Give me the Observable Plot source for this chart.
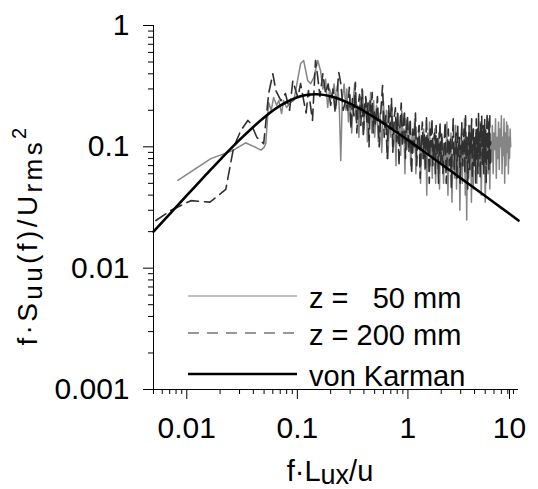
<!DOCTYPE html>
<html><head><meta charset="utf-8">
<script src="https://cdn.jsdelivr.net/npm/d3@7"></script>
<script src="https://cdn.jsdelivr.net/npm/@observablehq/plot@0.6"></script>
<style>
body{margin:0;background:#fff}
svg{font-family:"Liberation Sans",Arial,sans-serif}
</style>
</head><body><div id="chart"></div>
<script>
const xDomain = [0.005, 10];
const yDomain = [0.001, 1];
const xMajor = [0.01, 0.1, 1, 10];
const yMajor = [0.001, 0.01, 0.1, 1];
const xMinor = [0.005,0.006,0.007,0.008,0.009,0.02,0.03,0.04,0.05,0.06,0.07,0.08,0.09,0.2,0.3,0.4,0.5,0.6,0.7,0.8,0.9,2,3,4,5,6,7,8,9];
const yMinor = [0.002,0.003,0.004,0.005,0.006,0.007,0.008,0.009,0.02,0.03,0.04,0.05,0.06,0.07,0.08,0.09,0.2,0.3,0.4,0.5,0.6,0.7,0.8,0.9];
const seriesNames = ["z =   50 mm", "z = 200 mm", "von Karman"];
const xTitle = ["f·L", "ux", "/u"];
const yTitle = ["f·S", "uu", "(f)/U", "rms", "2"];

// z = 50 mm (grey, solid)
const z50 = [
[0.0083,0.053],[0.0165,0.080],[0.026,0.093],[0.034,0.108],[0.042,0.099],[0.047,0.094],[0.05,0.099],[0.0518,0.106],
[0.055,0.232],[0.058,0.20],[0.061,0.255],[0.065,0.22],[0.068,0.241],[0.072,0.188],[0.075,0.241],[0.08,0.211],
[0.086,0.23],[0.093,0.241],[0.107,0.486],[0.114,0.515],[0.124,0.352],[0.132,0.332],[0.141,0.373],[0.153,0.515],
[0.162,0.426],[0.170,0.30],[0.18,0.36],[0.188,0.211],[0.196,0.30],[0.205,0.25],[0.215,0.33],[0.225,0.22],
[0.232,0.332],[0.24,0.2],[0.247,0.077],[0.255,0.25],[0.265,0.33],[0.275,0.2],
[0.28,0.30],[0.29,0.16],[0.30,0.27],[0.31,0.13],[0.32,0.24],[0.33,0.33],[0.34,0.17],[0.35,0.22],[0.36,0.12],[0.37,0.26],
[0.38,0.19],[0.39,0.29],[0.40,0.14],[0.41,0.21],[0.42,0.25],[0.43,0.11],[0.44,0.23],[0.45,0.17],[0.46,0.28],[0.47,0.13],
[0.48,0.20],[0.49,0.24],[0.50,0.12],
[0.52,0.22],[0.54,0.11],[0.56,0.19],[0.58,0.09],[0.60,0.24],[0.62,0.14],[0.64,0.20],[0.66,0.08],[0.68,0.17],[0.70,0.12],
[0.72,0.21],[0.74,0.10],[0.76,0.16],[0.78,0.07],[0.80,0.19],[0.82,0.13],[0.84,0.15],[0.86,0.085],[0.88,0.20],[0.90,0.11],
[0.92,0.14],[0.94,0.06],[0.96,0.17],[0.98,0.095],[1.00,0.13],
[1.03,0.16],[1.06,0.07],[1.09,0.13],[1.12,0.09],[1.15,0.17],[1.18,0.06],[1.21,0.12],[1.24,0.1],[1.27,0.15],[1.30,0.05],
[1.33,0.11],[1.36,0.08],[1.39,0.14],[1.42,0.065],[1.45,0.12],[1.48,0.04],[1.51,0.13],[1.54,0.09],[1.57,0.16],[1.60,0.07],
[1.63,0.1],[1.66,0.055],[1.69,0.12],[1.72,0.085],[1.75,0.14],[1.78,0.05],[1.81,0.09],[1.84,0.11],[1.87,0.06],[1.90,0.13],
[1.93,0.045],[1.96,0.1],[1.99,0.075],
[2.05,0.12],[2.1,0.05],[2.15,0.1],[2.2,0.065],[2.25,0.16],[2.3,0.04],[2.35,0.09],[2.4,0.075],[2.45,0.13],[2.5,0.035],
[2.55,0.08],[2.6,0.11],[2.65,0.055],[2.7,0.15],[2.75,0.045],[2.8,0.1],[2.85,0.06],[2.9,0.12],[2.95,0.03],[3,0.085],
[3.05,0.13],[3.1,0.05],[3.15,0.095],[3.2,0.07],[3.25,0.17],[3.3,0.04],[3.35,0.11],[3.4,0.025],[3.45,0.09],[3.5,0.12],
[3.55,0.055],[3.6,0.1],[3.65,0.065],[3.7,0.15],[3.75,0.035],[3.8,0.08],[3.85,0.12],[3.9,0.045],[3.95,0.1],[4,0.07],
[4.1,0.13],[4.2,0.05],[4.3,0.11],[4.4,0.07],[4.5,0.16],[4.6,0.04],[4.7,0.1],[4.8,0.085],[4.9,0.14],[5,0.035],
[5.1,0.09],[5.2,0.12],[5.3,0.06],[5.4,0.17],[5.5,0.045],[5.6,0.11],[5.7,0.075],[5.8,0.15],[5.9,0.06],[6,0.13],
[6.1,0.095],[6.2,0.17],[6.3,0.055],[6.4,0.12],[6.5,0.08],[6.6,0.16],[6.7,0.065],[6.8,0.14],[6.9,0.1],[7,0.18],
[7.1,0.06],[7.2,0.12],[7.3,0.085],[7.4,0.17],[7.5,0.05],[7.6,0.13],[7.7,0.07],[7.8,0.16],[7.9,0.09],[8,0.15],
[8.1,0.06],[8.2,0.12],[8.3,0.08],[8.4,0.14],[8.5,0.1]
];

// z = 200 mm (dark, dashed)
const z200 = [
[0.00525,0.0247],[0.0072,0.030],[0.0109,0.036],[0.0162,0.035],[0.0225,0.0445],[0.0266,0.1],[0.0308,0.136],[0.0356,0.165],
[0.0379,0.156],[0.043,0.12],[0.0496,0.106],[0.055,0.275],[0.060,0.40],[0.064,0.29],[0.071,0.24],[0.078,0.275],[0.085,0.2],
[0.091,0.35],[0.101,0.255],[0.107,0.332],[0.114,0.241],[0.12,0.19],[0.126,0.291],[0.137,0.165],[0.146,0.515],[0.153,0.373],
[0.16,0.26],[0.17,0.40],[0.18,0.275],[0.19,0.33],[0.2,0.22],[0.21,0.3],[0.22,0.19],[0.237,0.41],[0.247,0.332],[0.26,0.2],[0.273,0.241],
[0.285,0.2],[0.295,0.31],[0.305,0.14],[0.315,0.25],[0.325,0.18],[0.335,0.34],[0.345,0.13],[0.355,0.22],[0.365,0.27],[0.375,0.15],
[0.385,0.3],[0.395,0.12],[0.405,0.21],[0.415,0.26],[0.425,0.16],[0.435,0.23],[0.445,0.1],[0.455,0.24],[0.465,0.19],[0.475,0.28],
[0.485,0.13],[0.495,0.2],
[0.51,0.15],[0.53,0.26],[0.55,0.1],[0.57,0.2],[0.59,0.32],[0.61,0.12],[0.63,0.18],[0.65,0.08],[0.67,0.22],[0.69,0.14],
[0.71,0.25],[0.73,0.09],[0.75,0.17],[0.77,0.21],[0.79,0.11],[0.81,0.19],[0.83,0.07],[0.85,0.16],[0.87,0.23],[0.89,0.1],
[0.91,0.15],[0.93,0.2],[0.95,0.08],[0.97,0.13],[0.99,0.18],
[1.02,0.09],[1.05,0.17],[1.08,0.06],[1.11,0.14],[1.14,0.1],[1.17,0.19],[1.2,0.07],[1.23,0.12],[1.26,0.15],[1.29,0.055],
[1.32,0.11],[1.35,0.16],[1.38,0.08],[1.41,0.13],[1.44,0.065],[1.47,0.18],[1.5,0.09],[1.53,0.12],[1.56,0.05],[1.59,0.14],
[1.62,0.1],[1.65,0.17],[1.68,0.07],[1.71,0.11],[1.74,0.13],[1.77,0.06],[1.8,0.15],[1.83,0.085],[1.86,0.12],[1.89,0.05],
[1.92,0.1],[1.95,0.16],[1.98,0.075],
[2.02,0.13],[2.07,0.06],[2.12,0.1],[2.17,0.16],[2.22,0.05],[2.27,0.09],[2.32,0.14],[2.37,0.07],[2.42,0.12],[2.47,0.045],
[2.52,0.11],[2.57,0.17],[2.62,0.065],[2.67,0.1],[2.72,0.13],[2.77,0.055],[2.82,0.15],[2.87,0.08],[2.92,0.12],[2.97,0.05],
[3.02,0.09],[3.07,0.16],[3.12,0.07],[3.17,0.11],[3.22,0.14],[3.27,0.06],[3.32,0.18],[3.37,0.08],[3.42,0.12],[3.47,0.045],
[3.52,0.1],[3.57,0.15],[3.62,0.065],[3.67,0.13],[3.72,0.09],[3.77,0.17],[3.82,0.055],[3.87,0.11],[3.92,0.14],[3.97,0.07],
[4.05,0.12],[4.1,0.05],[4.15,0.17],[4.2,0.08],[4.25,0.14],[4.3,0.06],[4.35,0.19],[4.4,0.09],[4.45,0.13],[4.5,0.055],
[4.55,0.16],[4.6,0.1],[4.65,0.18],[4.7,0.07],[4.75,0.12],[4.8,0.15],[4.85,0.06],[4.9,0.11],[4.95,0.17],[5,0.075],
[5.05,0.14],[5.1,0.05],[5.15,0.12],[5.2,0.19],[5.25,0.08],[5.3,0.1],[5.35,0.16],[5.4,0.065],[5.45,0.13],[5.5,0.18],
[5.55,0.07],[5.6,0.11]
];

// von Karman spectrum
const vonKarman = [
[0.005,0.0200],[0.007,0.0279],[0.01,0.0398],[0.015,0.0592],[0.02,0.0782],[0.03,0.114],[0.05,0.1746],[0.07,0.2185],
[0.1,0.2561],[0.12,0.2672],[0.15,0.2712],[0.2,0.2612],[0.3,0.2271],[0.4,0.1973],[0.5,0.1742],[0.7,0.1423],[1,0.1136],
[1.5,0.0872],[2,0.0722],[3,0.0552],[5,0.0393],[7,0.0314],[10,0.0247]
];

const FS = 30;
const fx = d => d[0], fy = d => d[1];

const svgEl = Plot.plot({
  width: 538, height: 489,
  marginLeft: 153, marginRight: 20, marginTop: 25, marginBottom: 100,
  style: {fontFamily: "'Liberation Sans', Arial, sans-serif", fontSize: FS + "px", color: "#000", background: "#fff", overflow: "visible"},
  x: {type: "log", domain: xDomain},
  y: {type: "log", domain: yDomain},
  marks: [
    Plot.line(z50, {x: fx, y: fy, stroke: "#858585", strokeWidth: 1.5}),
    Plot.line(z200, {x: fx, y: fy, stroke: "#303030", strokeWidth: 1.6, strokeDasharray: "12,6"}),
    Plot.line(vonKarman, {x: fx, y: fy, stroke: "#000", strokeWidth: 2.6, curve: "catmull-rom"}),
    Plot.axisX(xMinor, {tickSize: 5, tickFormat: () => "", label: null}),
    Plot.axisX(xMajor.slice(0, 3), {tickSize: 10, tickPadding: 17, tickFormat: d => String(d), label: null, fontSize: FS}),
    Plot.axisX(xMajor.slice(3), {tickSize: 10, tickPadding: 17, dx: -9, tickFormat: d => String(d), label: null, fontSize: FS}),
    Plot.axisY(yMinor, {tickSize: 5, tickFormat: () => "", label: null}),
    Plot.axisY(yMajor, {tickSize: 10, tickPadding: 14, tickFormat: d => String(d), label: null, fontSize: FS}),
    Plot.ruleX([xDomain[0]], {stroke: "#000"}),
    Plot.ruleY([yDomain[0]], {stroke: "#000"})
  ]
});
document.getElementById("chart").appendChild(svgEl);

const svg = d3.select(svgEl);
const fam = "'Liberation Sans', Arial, sans-serif";

// x title
const xt = svg.append("text").attr("x", 330).attr("y", 481).attr("text-anchor", "middle")
  .attr("font-family", fam).attr("font-size", 29).attr("fill", "#000");
xt.append("tspan").text(xTitle[0]);
xt.append("tspan").attr("dy", 3).attr("font-size", 27).text(xTitle[1]);
xt.append("tspan").attr("dy", -3).text(xTitle[2]);

// y title
const yt = svg.append("text").attr("transform", "translate(37,235) rotate(-90)").attr("text-anchor", "middle")
  .attr("font-family", fam).attr("font-size", 28).attr("letter-spacing", 3.4).attr("fill", "#000");
yt.append("tspan").text(yTitle[0]);
yt.append("tspan").attr("dy", 5).attr("font-size", 26).text(yTitle[1]);
yt.append("tspan").attr("dy", -5).text(yTitle[2]);
yt.append("tspan").attr("dy", 5).attr("font-size", 26).text(yTitle[3]);
yt.append("tspan").attr("dy", -16).attr("font-size", 20).text(yTitle[4]);

// legend
const legendStyles = [
  {stroke: "#858585", width: 1.2, dash: null},
  {stroke: "#303030", width: 1.2, dash: "11,8"},
  {stroke: "#000", width: 2.6, dash: null}
];
const rowY = [296, 333, 374];
seriesNames.forEach((name, i) => {
  const st = legendStyles[i];
  const ln = svg.append("line").attr("x1", 188).attr("x2", 297).attr("y1", rowY[i]).attr("y2", rowY[i])
    .attr("stroke", st.stroke).attr("stroke-width", st.width);
  if (st.dash) ln.attr("stroke-dasharray", st.dash);
  svg.append("text").attr("x", 309).attr("y", rowY[i] + 12).attr("text-anchor", "start")
    .attr("xml:space", "preserve").style("white-space", "pre")
    .attr("font-family", fam).attr("font-size", 29).attr("fill", "#000").text(name);
});
</script>
</body></html>
